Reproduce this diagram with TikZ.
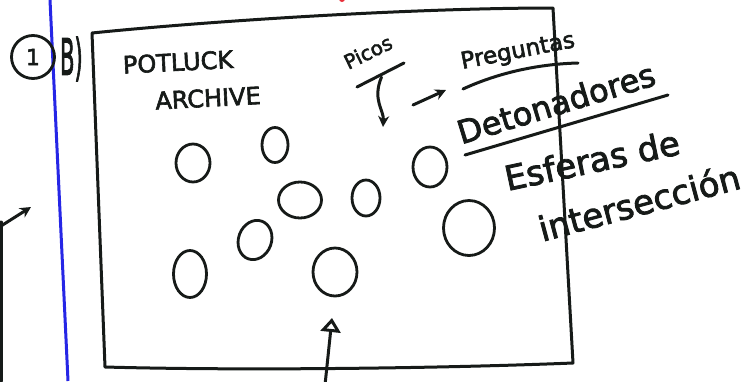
\documentclass[tikz,border=0pt]{standalone}
\usepackage{fontspec}
\setmainfont{DejaVu Sans}
\newfontfamily\handfont[FakeBold=2.5]{DejaVu Sans}
\usetikzlibrary{arrows.meta, positioning, shapes.geometric}
\definecolor{ink}{HTML}{161A18}
\definecolor{penblue}{HTML}{2626E6}
\definecolor{penred}{HTML}{E8303A}
\tikzset{
  pen/.style={draw=ink, line width=3pt, line cap=round, line join=round},
  blob/.style={ellipse, draw=ink, line width=2.8pt, inner sep=0pt},
  hand/.style={text=ink, inner sep=0pt},
  arr/.style={pen, -{Stealth[length=11pt, width=11pt]}},
  oarr/.style={pen, -{Triangle[open, length=14pt, width=20pt]}},
}
\newcommand{\handsize}[1]{\handfont\fontsize{#1}{#1}\selectfont}

\begin{document}
\begin{tikzpicture}[x=1pt, y=-1pt]
\useasboundingbox (0,0) rectangle (752,381);
\fill[white] (0,0) rectangle (752,381);

% ── margin line and page marks ─────────────────────────────────────────
\coordinate (mtop) at (50,0);
\coordinate (mbot) at (68,381);
\draw[penblue, line width=3pt] (mtop) -- (mbot);
\fill[penred] (342,-1) circle (3);

\coordinate (lstem) at (1,222);
\coordinate (lfoot) at (1,381);
\coordinate (ltip)  at (31,207);
\draw[pen] (lstem) -- (lfoot);
\draw[arr] (1,226) coordinate (lfrom) -- (ltip);

% ── step number ────────────────────────────────────────────────────────
\node[circle, draw=ink, line width=2.8pt, minimum size=43pt, inner sep=0pt,
      text=ink, font=\handsize{22}] (step) at (33,57) {1};
\node[hand, font=\handsize{50}, right=4pt of step, yshift=-2pt] (part)
      {\scalebox{0.42}[1]{B)}};

% ── frame ──────────────────────────────────────────────────────────────
\coordinate (tl) at (92,33);
\coordinate (tr) at (553,8);
\coordinate (br) at (573,363);
\coordinate (bl) at (105,367);

% ── title ──────────────────────────────────────────────────────────────
\node[hand, font=\handsize{24}, rotate=3] (potluck) at (178,62) {POTLUCK};
\node[hand, font=\handsize{24}, rotate=3] (archive) at (208,98) {ARCHIVE};

% ── labels on the right ────────────────────────────────────────────────
\node[hand, font=\handsize{20}, rotate=26] (picos) at (368,52) {Picos};
\node[hand, font=\handsize{23}, rotate=11] (preg)  at (518,52) {Preguntas};
\node[hand, font=\handsize{32}, rotate=17] (deton) at (556,103) {Detonadores};
\node[hand, font=\handsize{34}, rotate=12] (esfer) at (592,160) {Esferas de};
\node[hand, font=\handsize{34}, rotate=15] (inter) at (639,202) {intersección};

\draw[pen] (357,87) -- (404,63);
\draw[pen] (463,89) .. controls (500,72) and (540,64) .. (578,63);
\draw[pen] (465,155) -- (668,95);

\coordinate (pdown) at (383,127);
\coordinate (rfrom) at (413,105);
\coordinate (rto)   at (446,90);
\draw[arr] (picos.south) ++(10,18) coordinate (pfrom)
           .. controls (372,100) and (384,110) .. (pdown);
\draw[arr] (rfrom) -- (rto);

% ── potluck entries ────────────────────────────────────────────────────
\node[blob, minimum width=34pt, minimum height=38pt] (b1) at (193,163) {};
\node[blob, minimum width=26pt, minimum height=35pt] (b2) at (275,145) {};
\node[blob, minimum width=43pt, minimum height=36pt] (b3) at (300,200) {};
\node[blob, minimum width=28pt, minimum height=36pt] (b4) at (366,198) {};
\node[blob, minimum width=34pt, minimum height=40pt] (b5) at (430,167) {};
\node[blob, minimum width=51pt, minimum height=55pt] (b6) at (469,228) {};
\node[blob, minimum width=33pt, minimum height=40pt, rotate=-20] (b7) at (255,240) {};
\node[blob, minimum width=33pt, minimum height=47pt] (b8) at (190,274) {};
\node[blob, minimum width=44pt, minimum height=48pt] (b9) at (335,272) {};

% ── frame on top of the text it crosses ───────────────────────────────
\draw[pen] (tl) .. controls (220,20) and (420,8) .. (tr)
  -- (br) .. controls (450,368) and (250,371) .. (bl) -- cycle;

% ── pointer from below ─────────────────────────────────────────────────
\coordinate (upfrom) at (325,385);
\coordinate (uptip)  at (332,318);
\draw[oarr] (upfrom) -- (uptip);

\end{tikzpicture}
\end{document}
